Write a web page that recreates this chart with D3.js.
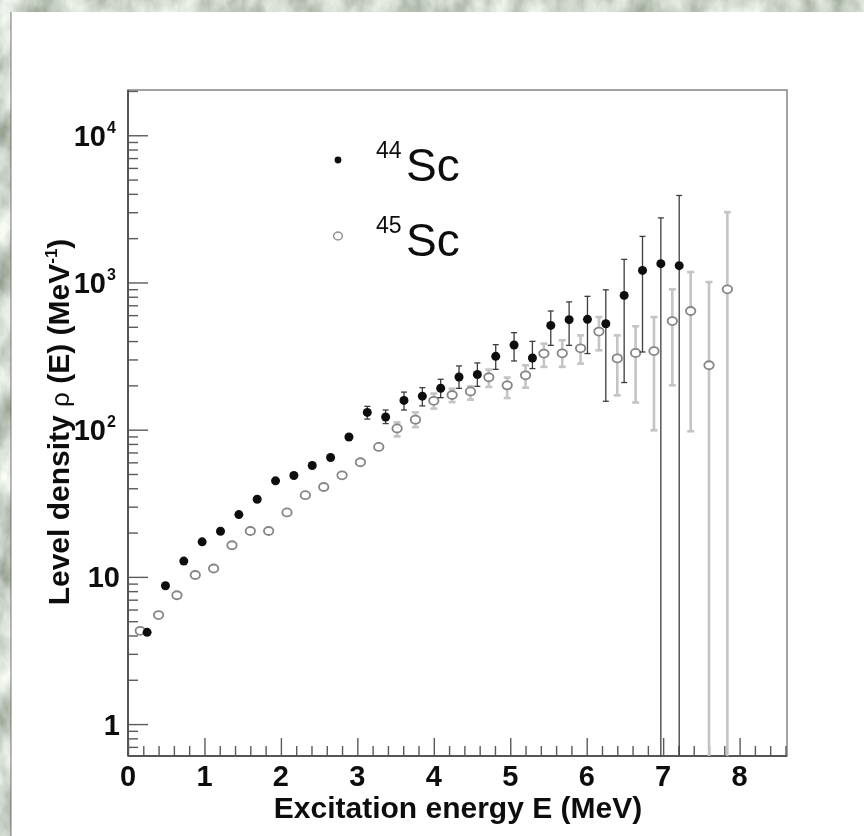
<!DOCTYPE html>
<html>
<head>
<meta charset="utf-8">
<script src="https://cdn.jsdelivr.net/npm/d3@7"></script>
<style>
  html, body { margin: 0; padding: 0; background: #fff; }
  svg { display: block; }
</style>
</head>
<body>
<svg id="chart" width="864" height="836"></svg>
<script>
// ---- 44Sc level density (filled markers) ----
const energy44 = [0.25, 0.49, 0.73, 0.97, 1.21, 1.45, 1.69, 1.93, 2.17, 2.41,
                  2.65, 2.89, 3.13, 3.37, 3.61, 3.85, 4.09, 4.33, 4.57, 4.81,
                  5.05, 5.29, 5.53, 5.77, 6.01, 6.25, 6.49, 6.73, 6.97, 7.21];
const density44 = [4.2, 8.7, 12.8, 17.3, 20.4, 26.5, 33.7, 44.9, 48.8, 57.1,
                   64.7, 89.2, 131, 122, 158, 169, 191, 228, 237, 315,
                   376, 307, 511, 559, 562, 524, 817, 1208, 1342, 1301];
const upper44 = [null, null, null, null, null, null, null, null, null, null,
                 null, null, 144, 136, 180, 193, 220, 271, 284, 378,
                 456, 398, 640, 738, 805, 891, 1435, 2056, 2746, 3900];
const lower44 = [null, null, null, null, null, null, null, null, null, null,
                 null, null, 118, 110, 136, 145, 165, 191, 197, 257,
                 293, 260, 374, 374, 329, 156, 209, 337, 0, 0];

// ---- 45Sc level density (open markers) ----
const energy45 = [0.16, 0.40, 0.64, 0.88, 1.12, 1.36, 1.60, 1.84, 2.08, 2.32,
                  2.56, 2.80, 3.04, 3.28, 3.52, 3.76, 4.00, 4.24, 4.48, 4.72,
                  4.96, 5.20, 5.44, 5.68, 5.92, 6.16, 6.40, 6.64, 6.88, 7.12,
                  7.36, 7.60, 7.84];
const density45 = [4.3, 5.5, 7.5, 10.3, 11.4, 16.4, 20.5, 20.5, 27.4, 35.9,
                   40.8, 49.0, 60.1, 76.3, 102, 117, 157, 172, 182, 227,
                   200, 234, 329, 330, 357, 464, 305, 332, 342, 547,
                   640, 274, 898];
const upper45 = [null, null, null, null, null, null, null, null, null, null,
                 null, null, null, null, 112, 131, 176, 190, 197, 256,
                 226, 274, 384, 405, 437, 582, 437, 504, 582, 898,
                 1177, 1006, 3005];
const lower45 = [null, null, null, null, null, null, null, null, null, null,
                 null, null, null, null, 90, 104, 139, 154, 160, 195,
                 164, 193, 267, 267, 281, 346, 171, 153, 99, 200,
                 97.5, 0, 0];

// ---- axes ----
const xDomain = [0, 8.62];
const yDomain = [0.607, 20300];
const xMajorTicks = [0, 1, 2, 3, 4, 5, 6, 7, 8];
const xTickLabels = ["0", "1", "2", "3", "4", "5", "6", "7", "8"];
const yMajorTicks = [1, 10, 100, 1000, 10000];
const yTickBase = ["1", "10", "10", "10", "10"];
const yTickExp = ["", "", "2", "3", "4"];

const legendNames = [{ mass: "44", el: "Sc" }, { mass: "45", el: "Sc" }];

const W = 864, H = 836;
const frame = { left: 128, right: 787, top: 90, bottom: 756 };
const FONT = "'Liberation Sans', Arial, Helvetica, sans-serif";

const svg = d3.select("#chart");
const defs = svg.append("defs");

// marble-like backdrop
const marble = defs.append("filter").attr("id", "marble")
  .attr("x", 0).attr("y", 0).attr("width", "100%").attr("height", "100%");
marble.append("feTurbulence").attr("type", "fractalNoise")
  .attr("baseFrequency", "0.035 0.02").attr("numOctaves", 4).attr("seed", 11);
marble.append("feColorMatrix").attr("type", "matrix")
  .attr("values", "1.0 0 0 0 0.12  1.0 0 0 0 0.17  1.0 0 0 0 0.1  0 0 0 0 1");

const soften = defs.append("filter").attr("id", "soften")
  .attr("x", "-5%").attr("y", "-5%").attr("width", "110%").attr("height", "110%");
soften.append("feGaussianBlur").attr("stdDeviation", 0.7);

defs.append("clipPath").attr("id", "plotClip")
  .append("rect")
  .attr("x", frame.left).attr("y", frame.top)
  .attr("width", frame.right - frame.left)
  .attr("height", frame.bottom - frame.top);

svg.append("rect").attr("width", W).attr("height", H).attr("filter", "url(#marble)");
svg.append("rect").attr("x", 11).attr("y", 12)
  .attr("width", W - 11).attr("height", H - 12).attr("fill", "#ffffff");
svg.append("line").attr("x1", 11).attr("x2", 11).attr("y1", 12).attr("y2", H)
  .attr("stroke", "rgba(60,60,60,0.35)").attr("stroke-width", 2);

const x = d3.scaleLinear().domain(xDomain).range([frame.left, frame.right]);
const y = d3.scaleLog().domain(yDomain).range([frame.bottom, frame.top]);

const g = svg.append("g").attr("filter", "url(#soften)");

// frame
g.append("rect")
  .attr("x", frame.left).attr("y", frame.top)
  .attr("width", frame.right - frame.left)
  .attr("height", frame.bottom - frame.top)
  .attr("fill", "none").attr("stroke", "#8c8c8c").attr("stroke-width", 1.6);

// x ticks
const xMinorTicks = d3.range(0, 44).filter(i => i % 5 !== 0).map(i => i * 0.2);
function styleAxis(sel) {
  sel.select(".domain").remove();
  sel.selectAll(".tick line").attr("stroke", "#5a5a5a").attr("stroke-width", 1.4);
}
g.append("g").attr("transform", `translate(0,${frame.bottom})`)
  .call(d3.axisBottom(x).tickValues(xMajorTicks).tickSize(-18).tickFormat(""))
  .call(styleAxis);
g.append("g").attr("transform", `translate(0,${frame.bottom})`)
  .call(d3.axisBottom(x).tickValues(xMinorTicks).tickSize(-10).tickFormat(""))
  .call(styleAxis);

// y ticks (log)
const yMinorTicks = [];
[0.1, 1, 10, 100, 1000, 10000].forEach(d => {
  for (let m = 2; m <= 9; m++) {
    const v = m * d;
    if (v >= yDomain[0] && v <= yDomain[1]) yMinorTicks.push(v);
  }
});
g.append("g").attr("transform", `translate(${frame.left},0)`)
  .call(d3.axisLeft(y).tickValues(yMajorTicks).tickSize(-20).tickFormat(""))
  .call(styleAxis);
g.append("g").attr("transform", `translate(${frame.left},0)`)
  .call(d3.axisLeft(y).tickValues(yMinorTicks).tickSize(-10).tickFormat(""))
  .call(styleAxis);

// axis lines
g.append("line").attr("x1", frame.left).attr("x2", frame.left)
  .attr("y1", frame.top).attr("y2", frame.bottom)
  .attr("stroke", "#555").attr("stroke-width", 2);
g.append("line").attr("x1", frame.left).attr("x2", frame.right)
  .attr("y1", frame.bottom).attr("y2", frame.bottom)
  .attr("stroke", "#555").attr("stroke-width", 2);

// x tick labels
g.append("g").selectAll("text").data(xMajorTicks).join("text")
  .attr("x", d => x(d)).attr("y", 786)
  .attr("text-anchor", "middle")
  .attr("font-family", FONT).attr("font-weight", "bold").attr("font-size", 29)
  .attr("fill", "#111")
  .text((d, i) => xTickLabels[i]);

// y tick labels
const yLab = g.append("g");
yMajorTicks.forEach((v, i) => {
  const ty = y(v) + 10.5;
  if (yTickExp[i]) {
    yLab.append("text").attr("x", 106).attr("y", ty).attr("text-anchor", "end")
      .attr("font-family", FONT).attr("font-weight", "bold").attr("font-size", 29)
      .attr("fill", "#111").text(yTickBase[i]);
    yLab.append("text").attr("x", 107).attr("y", ty - 13)
      .attr("font-family", FONT).attr("font-weight", "bold").attr("font-size", 16)
      .attr("fill", "#111").text(yTickExp[i]);
  } else {
    yLab.append("text").attr("x", 120).attr("y", ty).attr("text-anchor", "end")
      .attr("font-family", FONT).attr("font-weight", "bold").attr("font-size", 29)
      .attr("fill", "#111").text(yTickBase[i]);
  }
});

// axis titles
g.append("text")
  .attr("x", 458).attr("y", 818)
  .attr("text-anchor", "middle")
  .attr("font-family", FONT).attr("font-weight", "bold").attr("font-size", 30)
  .attr("fill", "#111")
  .text("Excitation energy E (MeV)");

const yTitle = g.append("text")
  .attr("transform", "translate(69,422) rotate(-90)")
  .attr("text-anchor", "middle")
  .attr("font-family", FONT).attr("font-weight", "bold").attr("font-size", 30)
  .attr("fill", "#111");
yTitle.append("tspan").text("Level density ");
yTitle.append("tspan").attr("font-weight", "normal").attr("font-size", 26).text("ρ");
yTitle.append("tspan").text(" (E) (MeV");
yTitle.append("tspan").attr("font-size", 17).attr("dy", -12).text("-1");
yTitle.append("tspan").attr("dy", 12).text(")");

// data
const plot = g.append("g").attr("clip-path", "url(#plotClip)");
const yMin = yDomain[0];

function drawBars(E, up, lo, color, width, cap) {
  const rows = E.map((e, i) => ({ e, up: up[i], lo: lo[i] })).filter(d => d.up != null);
  const bars = plot.append("g").attr("stroke", color).attr("stroke-width", width);
  rows.forEach(d => {
    const cx = x(d.e);
    const yTop = y(d.up);
    const clipped = d.lo <= yMin;
    const yBot = clipped ? frame.bottom : y(d.lo);
    bars.append("line").attr("x1", cx).attr("x2", cx).attr("y1", yTop).attr("y2", yBot);
    bars.append("line").attr("x1", cx - cap).attr("x2", cx + cap).attr("y1", yTop).attr("y2", yTop);
    if (!clipped) {
      bars.append("line").attr("x1", cx - cap).attr("x2", cx + cap).attr("y1", yBot).attr("y2", yBot);
    }
  });
}

// 45Sc below, 44Sc on top
drawBars(energy45, upper45, lower45, "#c4c4c4", 2.6, 3.5);
plot.append("g").selectAll("ellipse").data(energy45).join("ellipse")
  .attr("cx", d => x(d)).attr("cy", (d, i) => y(density45[i]))
  .attr("rx", 4.7).attr("ry", 4.0)
  .attr("fill", "#fff").attr("stroke", "#858585").attr("stroke-width", 1.8);

drawBars(energy44, upper44, lower44, "#3c3c3c", 1.3, 3);
plot.append("g").selectAll("circle").data(energy44).join("circle")
  .attr("cx", d => x(d)).attr("cy", (d, i) => y(density44[i]))
  .attr("r", 4.5).attr("fill", "#111");

// legend
const legend = g.append("g");
const legendRows = [
  { cy: 160, baseline: 181, filled: true },
  { cy: 236, baseline: 256, filled: false }
];
legendRows.forEach((r, i) => {
  if (r.filled) {
    legend.append("circle").attr("cx", 338).attr("cy", r.cy).attr("r", 3.4).attr("fill", "#111");
  } else {
    legend.append("ellipse").attr("cx", 338).attr("cy", r.cy).attr("rx", 4.4).attr("ry", 3.9)
      .attr("fill", "#fff").attr("stroke", "#999").attr("stroke-width", 1.6);
  }
  legend.append("text").attr("x", 376).attr("y", r.baseline - 23)
    .attr("font-family", FONT).attr("font-size", 23).attr("fill", "#111")
    .text(legendNames[i].mass);
  legend.append("text").attr("x", 406).attr("y", r.baseline)
    .attr("font-family", FONT).attr("font-size", 46).attr("fill", "#111")
    .text(legendNames[i].el);
});
</script>
</body>
</html>
